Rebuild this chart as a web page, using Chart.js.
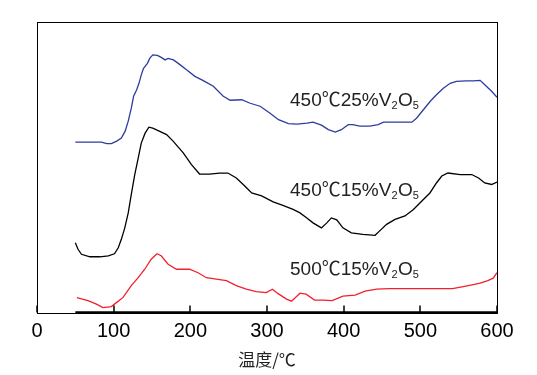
<!DOCTYPE html>
<html lang="zh">
<head>
<meta charset="UTF-8">
<title>温度曲线</title>
<script src="https://cdn.jsdelivr.net/npm/chart.js"></script>
<style>
  html, body { margin: 0; padding: 0; background: #fff; }
</style>
</head>
<body>
<canvas id="chart" width="537" height="375"></canvas>
<script>
  // x axis ticks (温度/℃)
  const xTicks = [0, 100, 200, 300, 400, 500, 600];

  // 450℃25%V2O5 (blue)
  const blueX = [50, 84, 91, 97, 104, 110, 115, 119, 123, 126, 130, 133, 136, 139, 144, 147, 151, 157, 162, 167, 171, 178, 186, 195, 206, 215, 221, 230, 243, 252, 267, 278, 291, 304, 315, 328, 339, 352, 360, 371, 380, 389, 397, 406, 412, 421, 434, 445, 452, 465, 478, 489, 495, 504, 513, 521, 530, 539, 547, 560, 569, 578, 584, 593, 600];
  const blueY = [171, 171, 169.5, 169.5, 172, 175, 182, 192, 205, 217, 223.5, 230, 238.5, 245, 250, 255, 258.5, 258, 256, 253.5, 255, 253.5, 249, 243.5, 237, 233.5, 231, 227, 217, 213, 213.5, 210, 207, 200, 193.5, 189.5, 189, 190, 191, 188, 183.5, 181, 183.5, 188.5, 188.5, 187, 187, 188.5, 191, 191, 191, 191, 195, 203.5, 212, 218.5, 225, 230, 232, 232.5, 232.5, 233, 228.5, 222, 216];

  // 450℃15%V2O5 (black)
  const blackX = [50, 53.5, 58, 69, 82, 93, 101, 106, 110, 114.5, 119, 123, 127.5, 132, 136, 141, 146, 151, 158, 169, 177.5, 191, 201.5, 212, 225, 238, 249, 260, 271, 280, 293, 308, 319, 334, 343, 352, 360, 371, 378, 384, 391, 399, 410, 425, 441, 447, 456, 467, 480, 491, 502, 512.5, 521, 528, 536, 552, 567, 576, 584, 593, 600];
  const blackY = [70, 63.5, 58.5, 56, 56, 57, 59, 65, 73.5, 85, 100, 118.5, 138.5, 155, 170, 180, 186, 185, 182.5, 178.5, 172, 160, 148.5, 139, 139, 140, 140, 135, 127, 120, 117, 111, 108, 103.5, 100, 95, 90, 85, 90, 95, 93, 85, 80, 78.5, 77.5, 82, 88.5, 93.5, 97, 103.5, 112, 120, 130, 137, 140, 138.5, 138.5, 135, 130, 128.5, 131];

  // 500℃15%V2O5 (red)
  const redX = [52, 66.5, 77.5, 86, 97, 103.5, 112, 123, 132, 140.5, 149, 156.5, 162, 171, 182, 199, 210, 221, 234, 247, 260, 273, 286, 299, 307, 314.5, 325.5, 332, 343, 351, 362, 373, 385, 399, 415, 428, 443, 460, 490, 526, 542, 556, 569, 578, 588, 595, 600];
  const redY = [15, 12, 8.5, 5, 6, 10, 15, 27, 35, 43.5, 53.5, 59, 57, 48.5, 43.5, 43.5, 40, 35, 33.5, 32, 27, 23.5, 21, 20, 23.5, 19, 13.5, 11.5, 19.5, 18.5, 12.5, 12.5, 12, 16.5, 17.5, 21.5, 23.5, 24, 24, 24, 24, 26, 28, 29.5, 32, 34.5, 40];

  // curve labels (anchored in data units)
  const labelPrefix = ['450℃25%', '450℃15%', '500℃15%'];
  const labelX = [330, 330, 330];
  const labelY = [207, 117, 38];
  const labelColor = '#222';

  const toPoints = (xs, ys) => xs.map((x, i) => ({ x: x, y: ys[i] }));

  const framePlugin = {
    id: 'frame',
    afterDraw(chart) {
      const { ctx, chartArea: a, scales: { x, y } } = chart;
      ctx.save();
      ctx.strokeStyle = '#000';
      ctx.lineWidth = 1;
      ctx.strokeRect(Math.round(a.left) + 0.5, Math.round(a.top) + 0.5,
        Math.round(a.right - a.left), Math.round(a.bottom - a.top));

      // heavier baseline under the measured range
      ctx.lineWidth = 2.5;
      ctx.beginPath();
      ctx.moveTo(x.getPixelForValue(50), a.bottom);
      ctx.lineTo(a.right, a.bottom);
      ctx.stroke();

      // inward tick marks
      ctx.lineWidth = 1.5;
      xTicks.forEach(v => {
        const px = Math.round(x.getPixelForValue(v));
        ctx.beginPath();
        ctx.moveTo(px, a.bottom);
        ctx.lineTo(px, a.bottom - 7);
        ctx.stroke();
      });

      // labels with subscripts
      const big = '19px "Liberation Sans", Arial, "Noto Sans CJK SC", sans-serif';
      const small = '11px "Liberation Sans", Arial, sans-serif';
      ctx.fillStyle = labelColor;
      ctx.textBaseline = 'alphabetic';
      labelPrefix.forEach((t, i) => {
        let px = x.getPixelForValue(labelX[i]);
        const py = y.getPixelForValue(labelY[i]);
        const parts = [[t + 'V', big, 0], ['2', small, 3], ['O', big, 0], ['5', small, 3]];
        parts.forEach(([s, f, dy]) => {
          ctx.font = f;
          ctx.fillText(s, px, py + dy);
          px += ctx.measureText(s).width + (f === small ? 0.5 : 0);
        });
      });
      ctx.restore();
    }
  };

  new Chart(document.getElementById('chart'), {
    type: 'line',
    data: {
      datasets: [
        { data: toPoints(blueX, blueY), borderColor: '#2e3c9e', borderWidth: 1.3, pointRadius: 0 },
        { data: toPoints(blackX, blackY), borderColor: '#000000', borderWidth: 1.3, pointRadius: 0 },
        { data: toPoints(redX, redY), borderColor: '#f0202e', borderWidth: 1.3, pointRadius: 0 }
      ]
    },
    options: {
      responsive: false,
      animation: false,
      devicePixelRatio: 1,
      layout: { padding: { left: 37, top: 22, right: 40, bottom: 1 } },
      plugins: { legend: { display: false }, tooltip: { enabled: false } },
      scales: {
        x: {
          type: 'linear',
          min: 0,
          max: 600,
          ticks: { stepSize: 100, color: '#000', padding: 6.5, font: { size: 20, family: '"Liberation Sans", Arial, sans-serif' } },
          grid: { display: false, drawTicks: false },
          border: { display: false },
          title: { display: true, text: '温度/℃', color: '#222', padding: { top: 0, bottom: 4 }, font: { size: 17, family: '"Noto Sans CJK SC", sans-serif' } }
        },
        y: {
          display: false,
          min: 0,
          max: 291.5
        }
      }
    },
    plugins: [framePlugin]
  });
</script>
</body>
</html>
